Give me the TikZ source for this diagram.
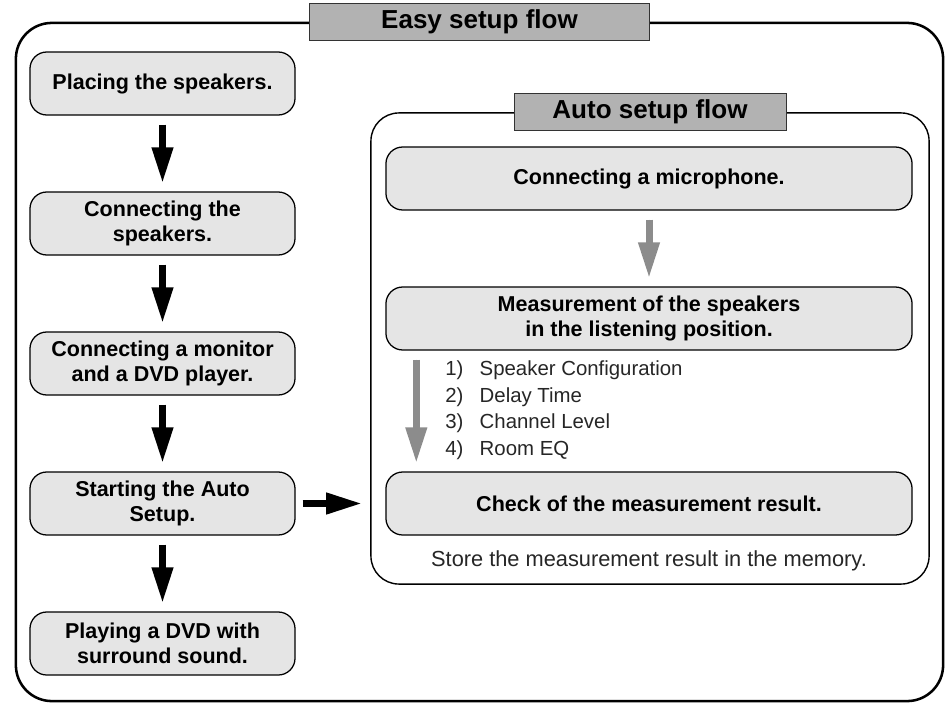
\documentclass[tikz,border=0pt]{standalone}
\usepackage{fontspec}
\setmainfont{Liberation Sans}
\usetikzlibrary{positioning,arrows.meta}

\definecolor{boxgray}{gray}{0.9}
\definecolor{titlegray}{gray}{0.7}
\definecolor{arrowgray}{gray}{0.55}

\tikzset{
  stepbox/.style={draw, rounded corners=0.42cm, fill=boxgray, line width=0.9pt,
    minimum height=1.575cm, align=center, font=\fontsize{15.3}{17.5}\selectfont\bfseries},
  leftbox/.style={stepbox, minimum width=6.625cm},
  autobox/.style={stepbox, minimum width=13.15cm},
  titlebox/.style={draw=black!80, fill=titlegray, line width=0.6pt,
    minimum height=0.925cm, font=\fontsize{18.5}{20}\selectfont\bfseries},
  bigarrow/.style={line width=0.175cm, -{Triangle[width=0.5cm,length=0.9cm]},
    shorten <=0.225cm, shorten >=0.2cm},
  grayarrow/.style={bigarrow, draw=arrowgray, fill=arrowgray}
}

\begin{document}
\begin{tikzpicture}[x=0.025cm, y=-0.025cm]

\useasboundingbox (0,0) rectangle (947,703);

% frames
\node[draw, rounded corners=0.9cm, line width=1.8pt, minimum width=23.175cm, minimum height=16.95cm] (easyframe) at (479.5,362) {};
\node[draw, rounded corners=0.7cm, line width=1pt, minimum width=13.95cm, minimum height=11.775cm] (autoframe) at (650,348.5) {};

\node[titlebox, minimum width=8.5cm] (easytitle) at (easyframe.north) {Easy setup flow};
\node[titlebox, minimum width=6.8cm] (autotitle) at (autoframe.north) {Auto setup flow};

% easy setup
\node[leftbox] (place) at (162.5,83.5) {Placing the speakers.};
\node[leftbox] (spk) at (162.5,223.5) {Connecting the\\speakers.};
\node[leftbox] (monitor) at (162.5,363.5) {Connecting a monitor\\and a DVD player.};
\node[leftbox] (start) at (162.5,503.5) {Starting the Auto\\Setup.};
\node[leftbox] (play) at (162.5,643.5) {Playing a DVD with\\surround sound.};

\draw[bigarrow] (place) -- (spk);
\draw[bigarrow] (spk) -- (monitor);
\draw[bigarrow] (monitor) -- (start);
\draw[bigarrow] (start) -- (play);
\draw[bigarrow, shorten <=0.175cm] (start.east) -- (autoframe.west |- start.east);

% auto setup
\node[autobox] (mic) at (649,178.5) {Connecting a microphone.};
\node[autobox] (meas) at (649,318.5) {Measurement of the speakers\\in the listening position.};
\node[autobox] (check) at (649,503.5) {Check of the measurement result.};

\draw[grayarrow] (mic) -- (meas);
\draw[grayarrow] ([xshift=31*0.025cm]meas.south west) -- ([xshift=31*0.025cm]check.north west);

\node[anchor=west, align=left, inner sep=0pt, text=black!85,
  font=\fontsize{14.5}{18.85}\selectfont] (items) at (445,410)
  {1)\hspace{0.8em}Speaker Configuration\\2)\hspace{0.8em}Delay Time\\3)\hspace{0.8em}Channel Level\\4)\hspace{0.8em}Room EQ};

\node[text=black!85, font=\fontsize{15.5}{17}\selectfont] (store) at (649,561) {Store the measurement result in the memory.};

\end{tikzpicture}
\end{document}
